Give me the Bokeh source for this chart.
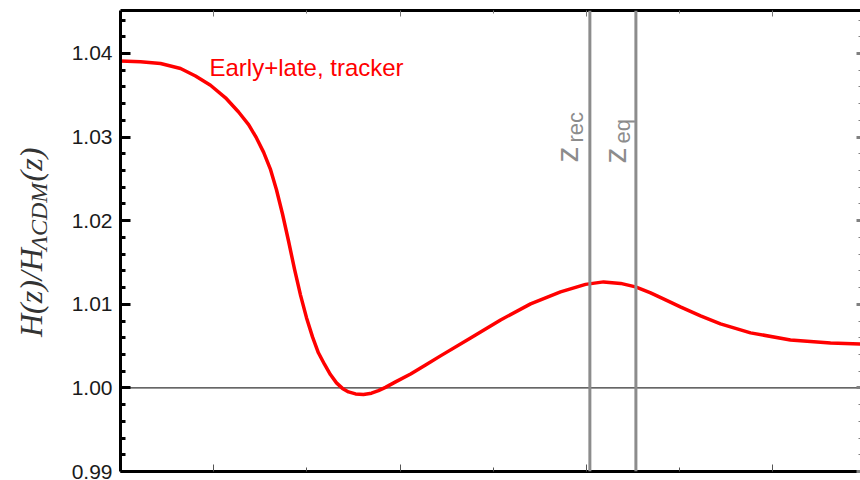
import math
from bokeh.plotting import figure
from bokeh.layouts import row
from bokeh.core.properties import value
from bokeh.models import (Range1d, FixedTicker, LogAxis, LinearAxis, Label, Span,
                          PrintfTickFormatter, CustomJSTickFormatter)
from bokeh.embed import file_html
from bokeh.resources import INLINE

# Redshift samples and the ratio H(z)/H_LCDM(z) for the early+late tracker model
z = [0.0100, 0.0164, 0.0269, 0.0441, 0.0638, 0.0924, 0.134, 0.185, 0.237, 0.288,
     0.343, 0.408, 0.472, 0.548, 0.635, 0.737, 0.855, 0.991, 1.15, 1.33,
     1.55, 1.79, 2.08, 2.41, 2.80, 3.33, 4.05, 4.94, 5.87, 6.98,
     8.95, 13.0, 18.8, 27.2, 57.2, 120, 252, 528, 980, 1530,
     2330, 3370, 4890, 7080, 10200, 16800, 27500, 57800, 155000, 417000, 875000]
ratio = [1.0391, 1.0390, 1.0388, 1.0382, 1.0373, 1.0362, 1.0347, 1.0330, 1.0315, 1.0299,
         1.0282, 1.0261, 1.0237, 1.0208, 1.0176, 1.0142, 1.0111, 1.0084, 1.0061, 1.0042,
         1.0028, 1.0016, 1.0006, 0.99994, 0.99952, 0.99928, 0.99922, 0.99937, 0.99967, 1.00006,
         1.00072, 1.00167, 1.00275, 1.00383, 1.00598, 1.00813, 1.01005, 1.01148, 1.01238, 1.01268,
         1.01250, 1.01208, 1.01136, 1.01053, 1.00969, 1.00861, 1.00766, 1.00658, 1.00574, 1.00538, 1.00526]

# Characteristic epochs
z_rec = 1090
z_eq = 3400

# Tick positions
y_major = [0.99, 1.00, 1.01, 1.02, 1.03, 1.04]
y_minor = [round(0.99 + 0.002 * i, 3) for i in range(28) if i % 5 != 0]
x_major = [0.1, 10, 1000, 1e5]
x_minor = [1, 100, 1e4]

x_lo, x_hi = 0.01, 8.75e5
y_lo, y_hi = 0.99, 1.04514

p = figure(width=800, height=480, x_axis_type="log",
           x_range=Range1d(x_lo, x_hi), y_range=Range1d(y_lo, y_hi),
           output_backend="svg", toolbar_location=None,
           min_border_left=60, min_border_right=0, min_border_top=10, min_border_bottom=9)
p.outline_line_color = None
p.xgrid.visible = False
p.ygrid.visible = False
p.background_fill_color = "white"
p.border_fill_color = "white"

blank = CustomJSTickFormatter(code="return ''")

# left axis: heavy frame with inward ticks and tick labels
ya = p.yaxis[0]
ya.ticker = FixedTicker(ticks=y_major, minor_ticks=y_minor)
ya.formatter = PrintfTickFormatter(format="%.2f")
ya.axis_line_width = 3
ya.axis_line_color = "black"
ya.major_tick_in = 10
ya.major_tick_out = 0
ya.minor_tick_in = 5
ya.minor_tick_out = 0
ya.major_tick_line_width = 3
ya.minor_tick_line_width = 3
ya.major_tick_line_color = "black"
ya.minor_tick_line_color = "black"
ya.major_label_text_font = "Liberation Sans"
ya.major_label_text_font_size = "21px"
ya.major_label_text_color = "#1a1a1a"
ya.major_label_standoff = 8

# bottom axis: heavy line, thin grey ticks, no visible labels
xa = p.xaxis[0]
xa.ticker = FixedTicker(ticks=x_major, minor_ticks=x_minor)
xa.formatter = blank
xa.axis_line_width = 3
xa.axis_line_color = "black"
xa.major_tick_in = 7
xa.major_tick_out = 0
xa.minor_tick_in = 4
xa.minor_tick_out = 0
xa.major_tick_line_color = "#555555"
xa.minor_tick_line_color = "#555555"
xa.major_tick_line_width = 1
xa.minor_tick_line_width = 1
xa.major_label_text_font_size = "2px"
xa.major_label_standoff = 0

# top frame
top = LogAxis(ticker=FixedTicker(ticks=x_major, minor_ticks=x_minor), formatter=blank)
top.axis_line_width = 3
top.axis_line_color = "black"
top.major_tick_in = 6
top.major_tick_out = 0
top.minor_tick_in = 3
top.minor_tick_out = 0
top.major_tick_line_color = "#777777"
top.minor_tick_line_color = "#777777"
top.major_tick_line_width = 1
top.minor_tick_line_width = 1
top.major_label_text_font_size = "2px"
top.major_label_standoff = 0
p.add_layout(top, "above")

# right frame: ticks only
right = LinearAxis(ticker=FixedTicker(ticks=y_major, minor_ticks=y_minor), formatter=blank)
right.axis_line_color = None
right.major_tick_in = 4
right.major_tick_out = 0
right.minor_tick_in = 2
right.minor_tick_out = 0
right.major_tick_line_color = "#808080"
right.minor_tick_line_color = "#808080"
right.major_tick_line_width = 3
right.minor_tick_line_width = 1
right.major_label_text_font_size = "2px"
right.major_label_standoff = 0
p.add_layout(right, "right")

# reference level H = H_LCDM
p.add_layout(Span(location=1.0, dimension="width", line_color="#333333",
                  line_width=1.2, level="underlay"))

# model curve
p.line(z, ratio, line_color="#ff0000", line_width=3.5, line_join="round")

# recombination and matter-radiation equality
grey = "#8c8c8c"
for zz in (z_rec, z_eq):
    p.add_layout(Span(location=zz, dimension="height", line_color=grey, line_width=3))

common = dict(angle=90, angle_units="deg", text_font="Liberation Sans", text_color=grey,
              text_baseline="middle", text_align="left",
              x_units="screen", y_units="screen")
p.add_layout(Label(x=446, y=309, text="z", text_font_size="32px", **common))
p.add_layout(Label(x=455, y=329, text="rec", text_font_size="22px", **common))
p.add_layout(Label(x=494, y=308, text="z", text_font_size="32px", **common))
p.add_layout(Label(x=502, y=328, text="eq", text_font_size="22px", **common))

# curve annotation
p.add_layout(Label(x=89, y=404, x_units="screen", y_units="screen",
                   text="Early+late, tracker", text_font="Liberation Sans",
                   text_font_size="24px", text_color="#ff0000", text_baseline="middle"))

# strip holding the vertical title H(z)/H_{Lambda CDM}(z); coordinates are pixels
t = figure(width=60, height=480, x_range=Range1d(0, 60), y_range=Range1d(480, 0),
           output_backend="svg", toolbar_location=None, min_border=0)
t.axis.visible = False
t.grid.visible = False
t.outline_line_color = None
t.border_fill_color = "white"
title_parts = ["H(z)/H", "\u039bCDM", "(z)"]
title_x = [30, 38, 30]
title_y = [340, 250, 178]
title_size = ["32px", "24px", "32px"]
for txt, tx, ty, ts in zip(title_parts, title_x, title_y, title_size):
    t.text(x=[tx], y=[ty], text=[txt], angle=math.pi / 2,
           text_font=value("Liberation Serif"), text_font_style="italic",
           text_font_size=ts, text_color="#333333",
           text_baseline="middle", text_align="left")

layout = row(t, p, spacing=0)
open("out.html", "w").write(file_html(layout, INLINE))
